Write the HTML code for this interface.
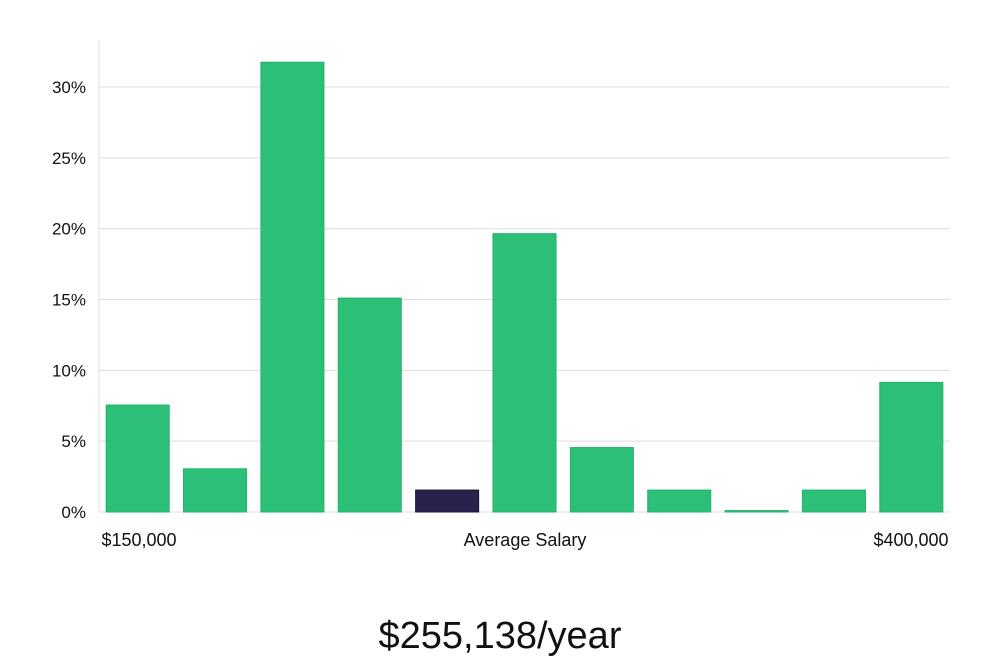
<!DOCTYPE html>
<html><head><meta charset="utf-8"><style>
html,body{margin:0;padding:0;background:#fff;}
svg text{font-family:"Liberation Sans","DejaVu Sans",sans-serif;}
</style></head><body>
<svg width="1000" height="660">
<g id="grid"></g><g id="bars"></g><g id="labels"></g>
</svg>
<script>
const categories=["b1","b2","b3","b4","b5","b6","b7","b8","b9","b10","b11"];
const values=[7.55,3.05,31.75,15.1,1.55,19.65,4.55,1.55,0.1,1.55,9.15];
const highlight=[false,false,false,false,true,false,false,false,false,false,false];
const yTicks=[0,5,10,15,20,25,30];
const xLabels=["$150,000","Average Salary","$400,000"];
const title="$255,138/year";
const NS="http://www.w3.org/2000/svg";
const x0=99,x1=950,y0=512,pxPer=(512-87)/30;
const y=v=>y0-v*pxPer;
const step=(x1-x0)/categories.length,bw=step*0.815;
const bx=i=>x0+i*step+(step-bw)/2;
function mk(t,a,p){const e=document.createElementNS(NS,t);for(const k in a)e.setAttribute(k,a[k]);p.appendChild(e);return e;}
const grid=document.getElementById('grid'),bars=document.getElementById('bars'),labels=document.getElementById('labels');
const ax=mk('line',{x1:x0,x2:x0,y1:40,y2:y0,stroke:'#e0e0e0'},grid);


yTicks.forEach(t=>{
 const l=mk('line',{x1:x0,x2:x1,y1:y(t),y2:y(t),stroke:'#dcdcdc'},grid);
 
 
 const tx=mk('text',{x:86,y:y(t)+6,'text-anchor':'end','font-size':17,fill:'#111'},labels);
 tx.textContent=t+'%';
 
 
});
values.forEach((v,i)=>{
 const h=Math.max(v*pxPer,1);
 const r=mk('rect',{x:bx(i),y:y0-h,width:bw,height:h,fill:highlight[i]?'#28234a':'#2bbf77',stroke:highlight[i]?'#1c1838':'#25b36d','stroke-width':1},bars);
 
 
});
const xl=[[139,xLabels[0]],[525,xLabels[1]],[911,xLabels[2]]];
xl.forEach(([cx,s])=>{
 const t=mk('text',{x:cx,y:546,'text-anchor':'middle','font-size':18,fill:'#111'},labels);
 t.textContent=s;
 
 
});
const tt=mk('text',{x:500,y:648,'text-anchor':'middle','font-size':38,fill:'#111','font-weight':300},labels);
tt.textContent=title;


</script>
</body></html>
